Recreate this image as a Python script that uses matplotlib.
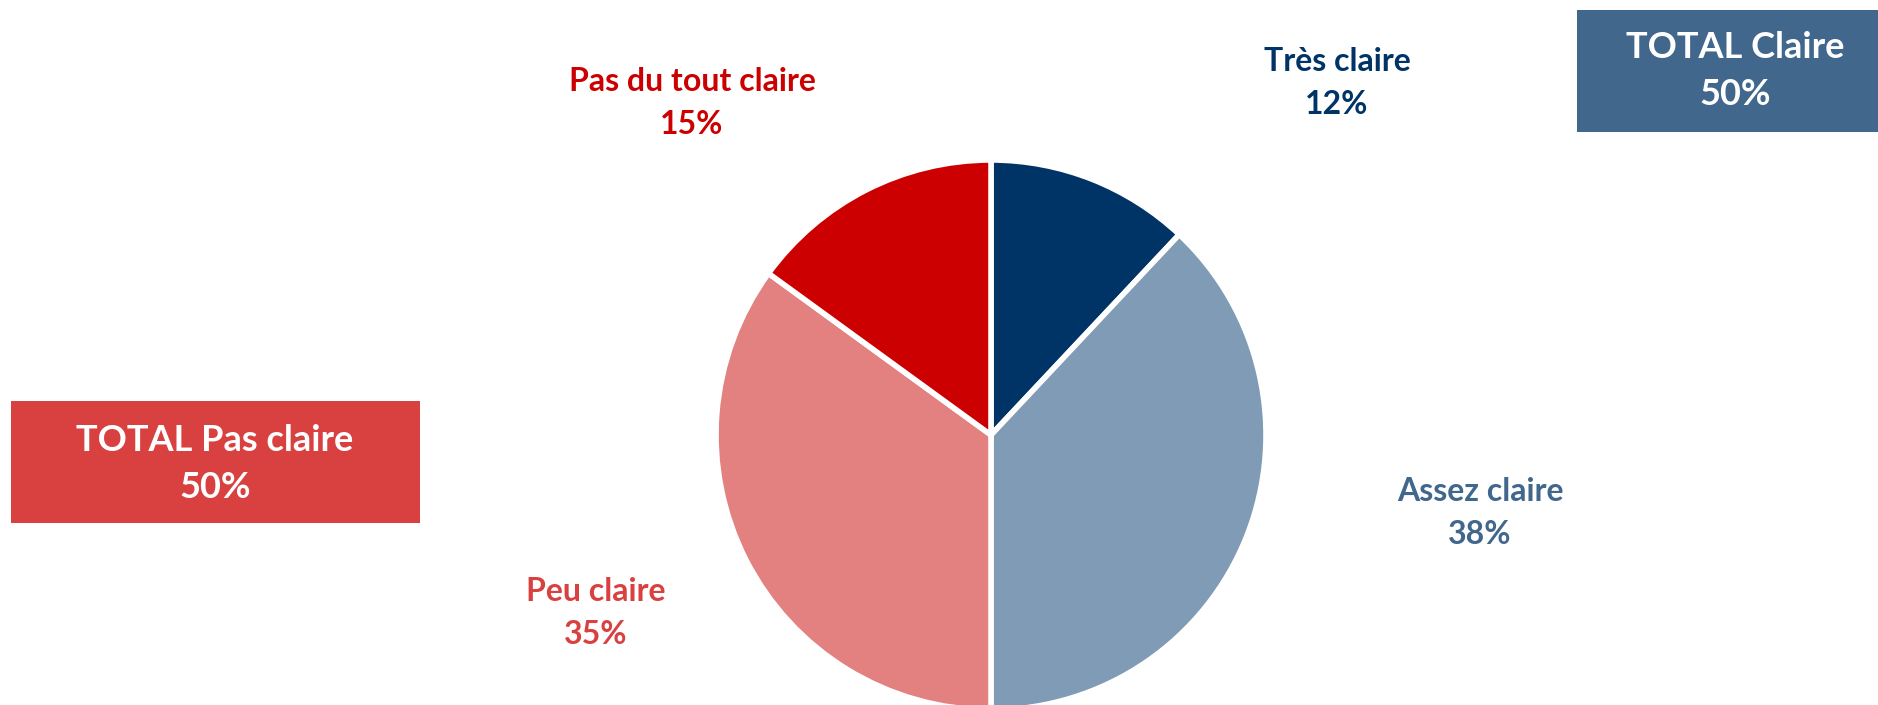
import matplotlib.pyplot as plt
from matplotlib.patches import Rectangle

# Categories and shares (%)
labels = ["Très claire", "Assez claire", "Peu claire", "Pas du tout claire"]
values = [12, 38, 35, 15]
colors = ["#003366", "#7F9BB5", "#E38080", "#CC0000"]
label_colors = ["#003366", "#41678C", "#D94141", "#CC0000"]

total_labels = ["TOTAL Claire", "TOTAL Pas claire"]
total_values = [values[0] + values[1], values[2] + values[3]]
total_colors = ["#41678C", "#D94141"]

W, H = 1878, 705
fig = plt.figure(figsize=(W / 100, H / 100), dpi=100)
ax = fig.add_axes([0, 0, 1, 1])

plt.rcParams["font.family"] = ["Lato", "DejaVu Sans"]

# pie, clockwise from 12 o'clock
ax.pie(values, colors=colors, startangle=90, counterclock=False,
       center=(991, 270), radius=275, frame=True,
       wedgeprops=dict(edgecolor="white", linewidth=4))
ax.set_xlim(0, W)
ax.set_ylim(0, H)
ax.set_aspect("equal")
ax.axis("off")

# slice labels
label_pos = [(1337, 622), (1480, 192), (596, 92), (692, 602)]
for lab, v, c, (x, y) in zip(labels, values, label_colors, label_pos):
    ax.text(x, y, f"{lab}\n{v}%", ha="center", va="center", color=c,
            fontsize=23, fontweight="bold", linespacing=1.55)

# total boxes
boxes = [(1577, 573, 320, 122), (11, 182, 409, 122)]
box_text = [(1735, 634), (215, 241)]
for lab, v, c, (bx, by, bw, bh), (tx, ty) in zip(total_labels, total_values,
                                                   total_colors, boxes, box_text):
    ax.add_patch(Rectangle((bx, by), bw, bh, facecolor=c, edgecolor="none"))
    ax.text(tx, ty, f"{lab}\n{v}%", ha="center", va="center", color="white",
            fontsize=26, fontweight="bold", linespacing=1.55)

fig.savefig("out.png", dpi=100)
